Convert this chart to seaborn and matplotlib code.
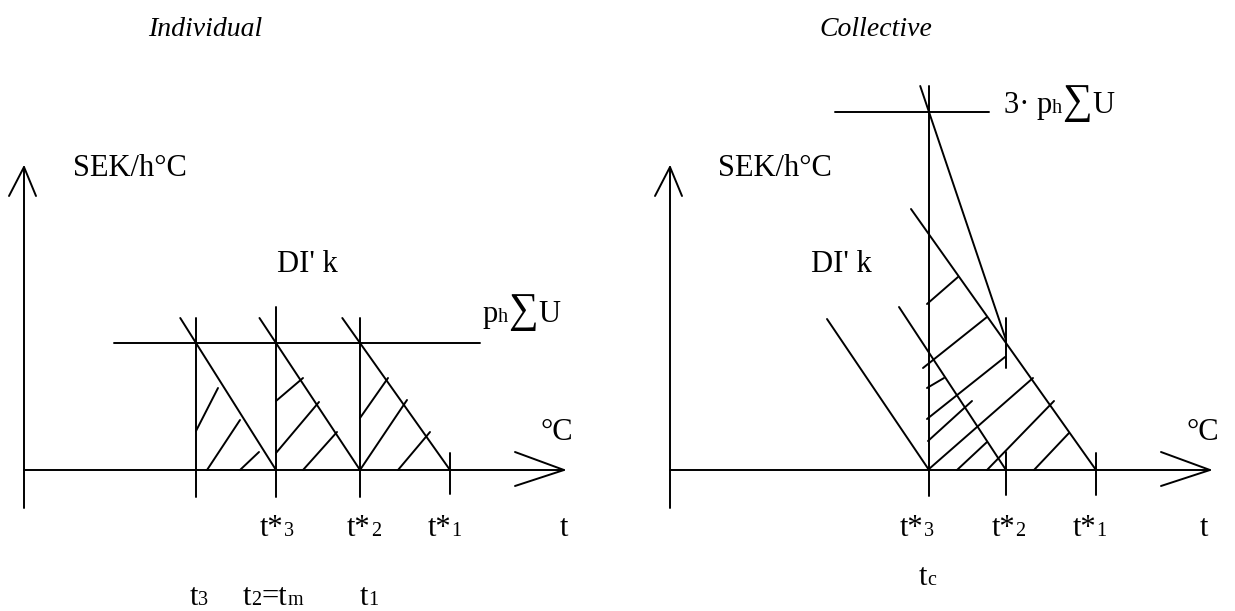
import numpy as np
import pandas as pd
import seaborn as sns
import matplotlib.pyplot as plt

sns.set_theme(style='white')
plt.rcParams['font.family'] = ['Liberation Serif', 'DejaVu Serif']
plt.rcParams['text.color'] = 'black'

# diagram units: x = temperature position from the origin, y = SEK/h°C above the t axis
AXIS_LEN = 540
AXIS_TOP = 303
AXIS_BOTTOM = -38

# Individual panel
ind_temps = [172, 252, 336, 426]        # t3 (=DI'k start), t*3, t*2, t*1
ind_level = 127                         # p_h * sum U
ind_top = 152                           # where the DI'k lines start
ind_vline_tops = [152, 163, 152]
ind_hatch = [
    [(172, 39), (194, 82)], [(183, 0), (216, 50)], [(216, 0), (235, 18)],
    [(252, 69), (279, 92)], [(252, 17), (295, 68)], [(279, 0), (313, 38)],
    [(336, 52), (364, 92)], [(336, 0), (383, 70)], [(374, 0), (406, 38)],
]

# Collective panel
col_temps = [259, 336, 426]             # t*3 (= tc), t*2, t*1
col_level = 358                         # 3 * p_h * sum U
col_dik = [[(157, 151), (259, 0)],      # DI'k lines
           [(229, 163), (336, 0)],
           [(241, 261), (426, 0)]]
col_cut = 130                           # long DI'k line at t*2
col_hatch = [
    [(257, 166), (288, 193)], [(253, 102), (317, 153)], [(257, 82), (274, 92)],
    [(257, 51), (335, 113)], [(258, 29), (302, 69)], [(259, 1), (363, 92)],
    [(287, 0), (317, 28)], [(317, 0), (384, 69)], [(364, 0), (399, 37)],
]

LW = 1.4
BIG = 22
SMALL = 14.5


def axes_segments():
    segs = [
        [(0, AXIS_BOTTOM), (0, AXIS_TOP)],
        [(-15, AXIS_TOP - 29), (0, AXIS_TOP), (12, AXIS_TOP - 29)],
        [(0, 0), (AXIS_LEN, 0)],
        [(AXIS_LEN - 49, 18), (AXIS_LEN, 0), (AXIS_LEN - 49, -16)],
    ]
    return segs


def individual_segments():
    segs = axes_segments()
    segs.append([(90, ind_level), (456, ind_level)])
    for t, top in zip(ind_temps[:3], ind_vline_tops):
        segs.append([(t, -27), (t, top)])
    segs.append([(ind_temps[3], -24), (ind_temps[3], 17)])
    for t0, t1 in zip(ind_temps[:-1], ind_temps[1:]):
        slope = (t1 - t0) / ind_level
        x_start = t0 - (ind_top - ind_level) * slope
        segs.append([(x_start, ind_top), (t1, 0)])
    segs += ind_hatch
    return segs


def collective_segments():
    segs = axes_segments()
    tc, t2, t1 = col_temps
    segs.append([(165, col_level), (319, col_level)])
    segs.append([(tc, -26), (tc, 384)])
    slope = (t2 - tc) / (col_level - col_cut)
    segs.append([(tc - (384 - col_level) * slope, 384), (t2, col_cut)])
    segs.append([(t2, col_cut - 28), (t2, col_cut + 22)])
    segs.append([(t2, -25), (t2, 18)])
    segs.append([(t1, -25), (t1, 17)])
    segs += col_dik
    segs += col_hatch
    return segs


def to_frame(segs):
    rows = []
    for i, seg in enumerate(segs):
        for x, y in seg:
            rows.append({'seg': i, 'x': x, 'y': y})
    return pd.DataFrame(rows)


def label(ax, x, y, parts, **kw):
    # write the pieces one after another, small ones sit on the same baseline
    r = ax.figure.canvas.get_renderer()
    for s, size in parts:
        t = ax.text(x, y, s, fontsize=size, ha='left', va='baseline', **kw)
        bb = t.get_window_extent(renderer=r)
        x = ax.transData.inverted().transform((bb.x1, bb.y0))[0]


def ax_left_px(ax):
    return ax.get_position().x0 * 1235


def draw_panel(ax, segs, origin_px):
    df = to_frame(segs)
    sns.lineplot(data=df, x='x', y='y', units='seg', estimator=None,
                 sort=False, color='black', linewidth=LW, ax=ax, legend=False)
    x0 = -(origin_px - ax_left_px(ax))
    ax.set_xlim(x0, x0 + 617.5)
    ax.set_ylim(-141, 470)
    ax.set_axis_off()


fig = plt.figure(figsize=(12.35, 6.11), dpi=100)
ax1 = fig.add_axes([0, 0, 0.5, 1])
ax2 = fig.add_axes([0.5, 0, 0.5, 1])

draw_panel(ax1, individual_segments(), 24)
draw_panel(ax2, collective_segments(), 670)

# Individual texts
ax1.text(181, 440, 'Individual', fontsize=20, style='italic', ha='center', va='center')
label(ax1, 49, 294, [('SEK/h°C', BIG)])
label(ax1, 253, 198, [("DI' k", BIG)])
label(ax1, 459, 148, [('p', BIG), ('h', SMALL), ('∑', 30), ('U', BIG)])
label(ax1, 517, 30, [('°C', BIG)])
label(ax1, 536, -66, [('t', BIG)])
for x, d in zip([236, 323, 404], ['3', '2', '1']):
    label(ax1, x, -66, [('t*', BIG), (d, SMALL)])
label(ax1, 166, -135, [('t', BIG), ('3', SMALL)])
label(ax1, 219, -135, [('t', BIG), ('2', SMALL), ('=t', BIG), ('m', SMALL)])
label(ax1, 336, -135, [('t', BIG), ('1', SMALL)])

# Collective texts
ax2.text(206, 440, 'Collective', fontsize=20, style='italic', ha='center', va='center')
label(ax2, 48, 294, [('SEK/h°C', BIG)])
label(ax2, 141, 198, [("DI' k", BIG)])
label(ax2, 334, 357, [('3· ', BIG), ('p', BIG), ('h', SMALL), ('∑', 30), ('U', BIG)])
label(ax2, 516, 30, [('°C', BIG)])
label(ax2, 530, -66, [('t', BIG)])
for x, d in zip([230, 322, 403], ['3', '2', '1']):
    label(ax2, x, -66, [('t*', BIG), (d, SMALL)])
label(ax2, 249, -115, [('t', BIG), ('c', SMALL)])

fig.savefig('out.png', dpi=100, facecolor='white')
